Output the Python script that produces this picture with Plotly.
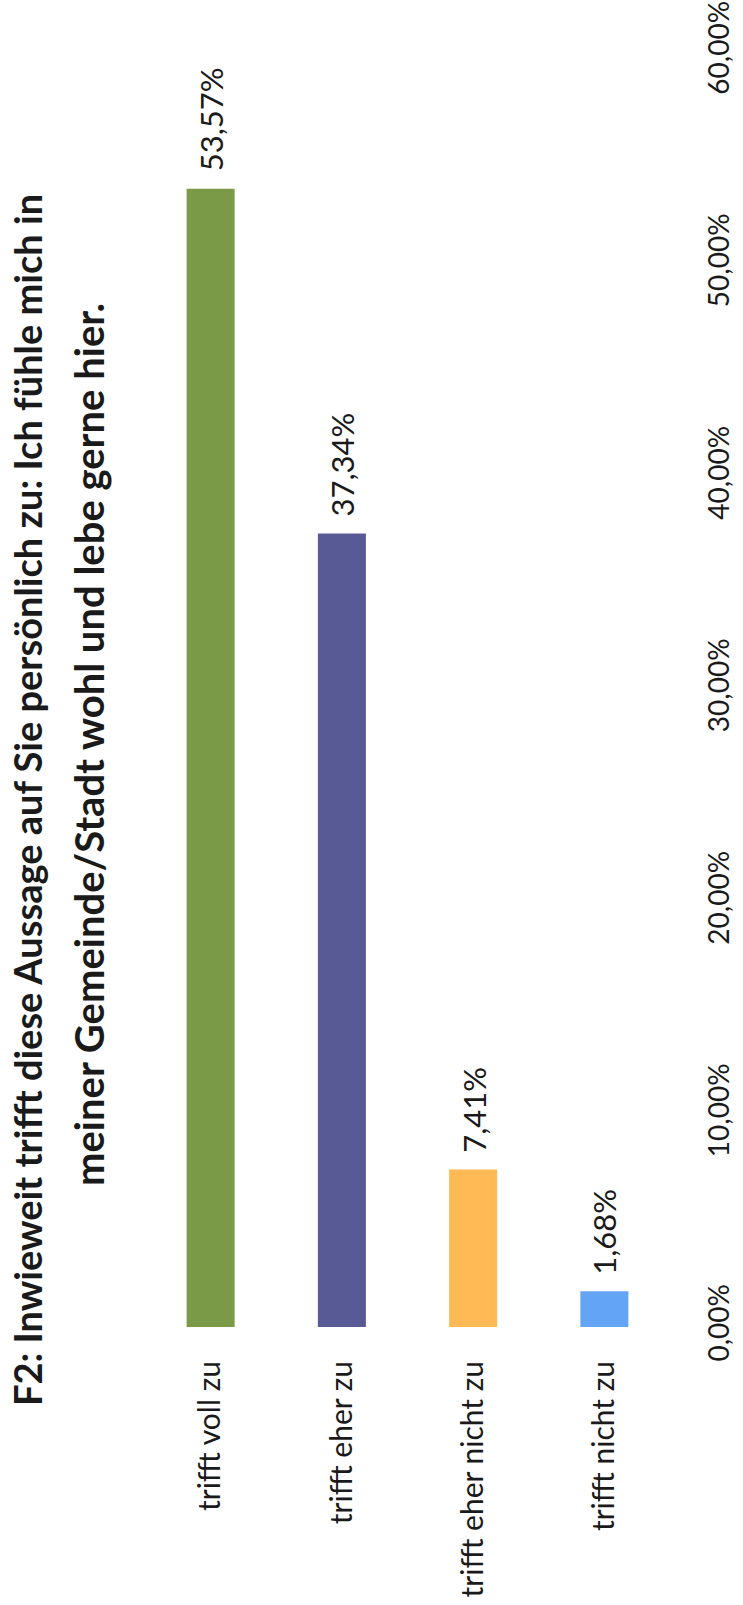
import plotly.graph_objects as go

categories = ["trifft voll zu", "trifft eher zu", "trifft eher nicht zu", "trifft nicht zu"]
values = [0.5357, 0.3734, 0.0741, 0.0168]
colors = ["#7B9A48", "#575A94", "#FFBA55", "#64A4F7"]
title_line1 = "F2: Inwieweit trifft diese Aussage auf Sie persönlich zu: Ich fühle mich in"
title_line2 = "meiner Gemeinde/Stadt wohl und lebe gerne hier."
tick_vals = [0, 0.1, 0.2, 0.3, 0.4, 0.5, 0.6]

FONT = "Lato"
TXT = "#1a1a1a"

fig = go.Figure()
fig.add_trace(go.Bar(
    x=categories, y=values, marker=dict(color=colors, line=dict(width=0)),
    hoverinfo="skip",
))

for c, v in zip(categories, values):
    fig.add_annotation(
        x=c, y=v, xref="x", yref="y", text=f"{v*100:.2f}%".replace(".", ","),
        textangle=-90, showarrow=False, xanchor="center", yanchor="bottom",
        yshift=15, font=dict(family=FONT, size=31, color=TXT),
    )

L, R, T, B = 145, 73, 52, 278
W, H = 743, 1605
pw, ph = W - L - R, H - T - B

def px(xp):
    return (xp - L) / pw

def py(yp):
    return (H - B - yp) / ph

fig.add_annotation(x=px(27), y=py(800), xref="paper", yref="paper", text=title_line1,
                   textangle=-90, showarrow=False, xanchor="center", yanchor="middle",
                   font=dict(family=FONT, size=38, color=TXT, weight="bold"))
fig.add_annotation(x=px(89), y=py(745), xref="paper", yref="paper", text=title_line2,
                   textangle=-90, showarrow=False, xanchor="center", yanchor="middle",
                   font=dict(family=FONT, size=40, color=TXT, weight="bold"))

fig.update_layout(
    width=W, height=H,
    margin=dict(l=L, r=R, t=T, b=B, autoexpand=False),
    paper_bgcolor="white", plot_bgcolor="white",
    separators=", ",
    bargap=0.634,
    showlegend=False,
    xaxis=dict(
        tickangle=-90, showline=False, showgrid=False, ticks="", automargin=False,
        tickfont=dict(family=FONT, size=30, color=TXT),
        ticklabelstandoff=27,
    ),
    yaxis=dict(
        side="right", range=[0, 0.6], tickvals=tick_vals, tickformat=".2%",
        tickangle=-90, showgrid=False, showline=False, zeroline=False, ticks="",
        automargin=False,
        tickfont=dict(family=FONT, size=28, color=TXT),
        ticklabelstandoff=30,
    ),
)

fig.write_html("out.html")
